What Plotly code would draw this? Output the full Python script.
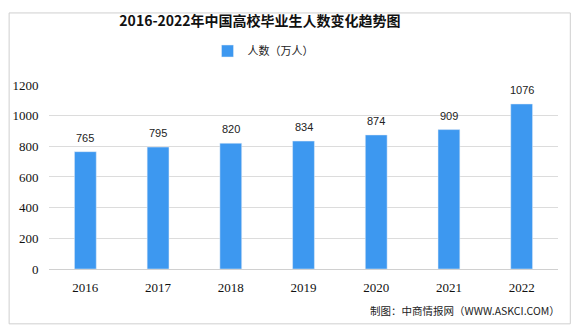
import plotly.graph_objects as go

years = ["2016", "2017", "2018", "2019", "2020", "2021", "2022"]
values = [765, 795, 820, 834, 874, 909, 1076]
series_name = "人数（万人）"
y_ticks = [0, 200, 400, 600, 800, 1000, 1200]

W, H = 576, 327
L, R, T, B = 41, 18, 76, 58
PW, PH = W - L - R, H - T - B
fig = go.Figure()
fig.add_trace(go.Bar(
    x=years, y=values, name=series_name,
    marker=dict(color="#3d98f0"),
    width=0.30,
))
for i, v in enumerate(values):
    fig.add_annotation(x=i, y=v, text=str(v), showarrow=False, yshift=14,
                       font=dict(size=11, color="#222", family="Liberation Sans"))
fig.update_layout(
    width=W, height=H,
    margin=dict(l=L, r=R, t=T, b=B),
    paper_bgcolor="white", plot_bgcolor="white",
    title=dict(text="<b>2016-2022年中国高校毕业生人数变化趋势图</b>",
               x=260 / W, xanchor="center", y=1 - 21 / H, yanchor="middle",
               font=dict(size=14, color="#111", family="Noto Sans CJK SC")),
    showlegend=True,
    legend=dict(orientation="h", x=(202 - L) / PW, xanchor="left", y=1 - 51 / H, yref="container",
                yanchor="middle", font=dict(size=11, color="#222", family="Noto Sans CJK SC"),
                itemwidth=30),
    xaxis=dict(type="category", categoryorder="array", categoryarray=years,
               range=[-0.5, len(years) - 0.5],
               showline=True, linecolor="#d0d0d0", ticks="outside", tickcolor="white", ticklen=6,
               tickfont=dict(size=13, color="#111", family="Liberation Serif")),
    yaxis=dict(range=[0, 1200], tickvals=y_ticks, showgrid=True, gridcolor="#dcdcdc",
               zeroline=False, ticks="outside", tickcolor="white", ticklen=7,
               tickfont=dict(size=13, color="#111", family="Liberation Serif")),
)
fig.add_annotation(text="制图：中商情报网（WWW.ASKCI.COM）", xref="paper", yref="paper",
                   x=(562 - L) / PW, y=-(313 - (H - B)) / PH, xanchor="right", yanchor="middle",
                   showarrow=False,
                   font=dict(size=10.5, color="#222", family="Noto Sans CJK SC"))
fig.add_shape(type="rect", xref="paper", yref="paper", x0=-(L - 0.5) / PW, x1=(570.5 - L) / PW,
              y0=-(B - 0.5) / PH, y1=1 + (T - 0.5) / PH, line=dict(color="#cfcfcf", width=1))
fig.write_html("out.html")
